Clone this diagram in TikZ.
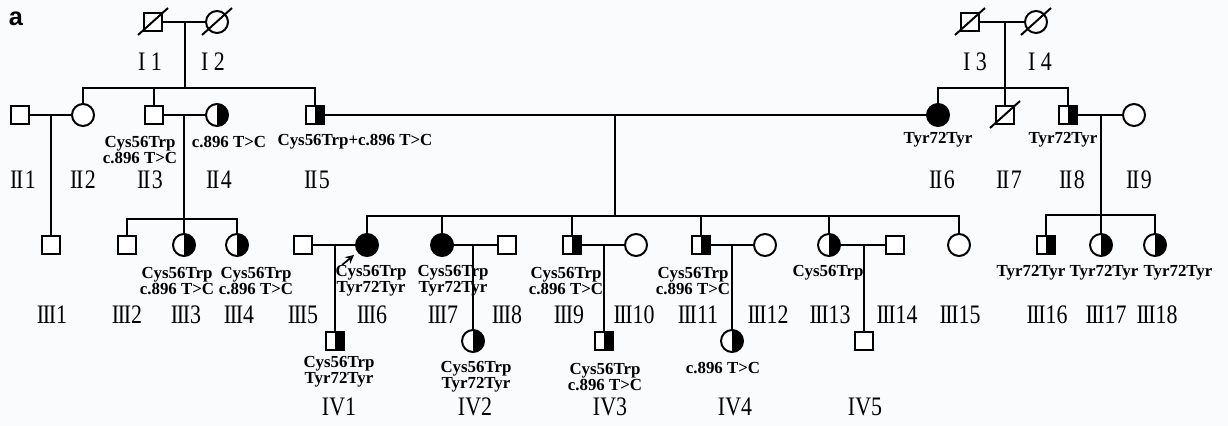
\documentclass[tikz,border=0pt]{standalone}
\usepackage{fontspec}
\setmainfont{Liberation Serif}
\setsansfont{Liberation Sans}
\newfontfamily\numfont[FakeStretch=0.82]{Liberation Serif}
\usetikzlibrary{arrows.meta}

\definecolor{paper}{RGB}{250,251,253}

\begin{document}
\begin{tikzpicture}[
    x=0.025cm, y=-0.025cm,
    line width=1.4pt,
    male/.style={rectangle, draw=black, minimum size=0.46cm, inner sep=0pt, fill=white},
    female/.style={circle, draw=black, minimum size=0.55cm, inner sep=0pt, fill=white},
    half/.style={path picture={\fill[black] (path picture bounding box.north)
                 rectangle (path picture bounding box.south east);}},
    full/.style={fill=black},
    geno/.style={font=\fontsize{12}{11.5}\selectfont\bfseries, align=center, inner sep=0pt},
    num/.style={font=\numfont\fontsize{19}{20}\selectfont, inner sep=0pt},
    proband/.style={-{Stealth[length=6pt,width=6pt]}, line width=1.2pt}
]
\fill[paper] (0,0) rectangle (1228,426);
\useasboundingbox (0,0) rectangle (1228,426);

\node[font=\fontsize{18}{18}\selectfont\sffamily\bfseries, inner sep=0pt] (panel) at (16,19) {a};

% generation I
\node[male]   (i1) at (153,22) {};
\node[female] (i2) at (217,22) {};
\node[male]   (i3) at (970,22) {};
\node[female] (i4) at (1036,22) {};

% generation II
\node[male]         (ii1) at (20,115) {};
\node[female]       (ii2) at (83,115) {};
\node[male]         (ii3) at (154,115) {};
\node[female, half] (ii4) at (217,115) {};
\node[male, half]   (ii5) at (315,115) {};
\node[female, full] (ii6) at (938,115) {};
\node[male]         (ii7) at (1005,115) {};
\node[male, half]   (ii8) at (1068,115) {};
\node[female]       (ii9) at (1134,115) {};

% generation III
\node[male]         (iii1)  at (51,245) {};
\node[male]         (iii2)  at (127,245) {};
\node[female, half] (iii3)  at (184,245) {};
\node[female, half] (iii4)  at (237,245) {};
\node[male]         (iii5)  at (303,245) {};
\node[female, full] (iii6)  at (367,245) {};
\node[female, full] (iii7)  at (442,245) {};
\node[male]         (iii8)  at (507,245) {};
\node[male, half]   (iii9)  at (572,245) {};
\node[female]       (iii10) at (636,245) {};
\node[male, half]   (iii11) at (701,245) {};
\node[female]       (iii12) at (765,245) {};
\node[female, half] (iii13) at (829,245) {};
\node[male]         (iii14) at (895,245) {};
\node[female]       (iii15) at (959,245) {};
\node[male, half]   (iii16) at (1046,245) {};
\node[female, half] (iii17) at (1101,245) {};
\node[female, half] (iii18) at (1155,245) {};

% generation IV
\node[male, half]   (iv1) at (335,341) {};
\node[female, half] (iv2) at (473,341) {};
\node[male, half]   (iv3) at (604,341) {};
\node[female, half] (iv4) at (732,341) {};
\node[male]         (iv5) at (864,341) {};

% deceased
\foreach \p in {i1,i2,i3,i4,ii7}
    \draw ([shift={(-15,13)}]\p.center) -- ([shift={(15,-14)}]\p.center);

% couples and sibships
\coordinate (m12) at (185,22);   \coordinate (s12) at (185,88);
\coordinate (m34) at (1005,22);  \coordinate (s34) at (1005,88);
\draw (i1) -- (i2);
\draw (i3) -- (i4);
\draw (m12) -- (s12);
\draw (m34) -- (s34);
\draw (ii2.north) |- (s12) -| (ii5.north);
\draw (ii3.north) |- (s12);
\draw (ii6.north) |- (s34) -| (ii8.north);
\draw (s34) -- (ii7.north);

\coordinate (m2a) at (51,115);
\coordinate (m2b) at (184,115);   \coordinate (s2b) at (184,219);
\coordinate (m2c) at (615,115);   \coordinate (s2c) at (615,216);
\coordinate (m2d) at (1101,115);  \coordinate (s2d) at (1101,215);
\draw (ii1) -- (ii2);
\draw (ii3) -- (ii4);
\draw (ii5) -- (ii6);
\draw (ii8) -- (ii9);
\draw (m2a) -- (iii1.north);
\draw (m2b) -- (s2b);
\draw (m2c) -- (s2c);
\draw (m2d) -- (s2d);
\draw (iii2.north) |- (s2b) -| (iii4.north);
\draw (s2b) -- (iii3.north);
\draw (iii6.north) |- (s2c) -| (iii15.north);
\foreach \c in {iii7,iii9,iii11,iii13}
    \draw (\c.north) |- (s2c);
\draw (iii16.north) |- (s2d) -| (iii18.north);
\draw (s2d) -- (iii17.north);

\coordinate (m3a) at (335,245);
\coordinate (m3b) at (473,245);
\coordinate (m3c) at (604,245);
\coordinate (m3d) at (732,245);
\coordinate (m3e) at (864,245);
\draw (iii5) -- (iii6);
\draw (iii7) -- (iii8);
\draw (iii9) -- (iii10);
\draw (iii11) -- (iii12);
\draw (iii13) -- (iii14);
\draw (m3a) -- (iv1.north);
\draw (m3b) -- (iv2.north);
\draw (m3c) -- (iv3.north);
\draw (m3d) -- (iv4.north);
\draw (m3e) -- (iv5.north);

% proband
\coordinate (pb0) at (342,265);
\coordinate (pb1) at (354,255);
\draw[proband] (pb0) -- (pb1);

% genotypes
\node[geno] (g-ii3)   at (140,150) {Cys56Trp\\c.896 T>C};
\node[geno] (g-ii4)   at (229,142) {c.896 T>C};
\node[geno] (g-ii5)   at (355,142) {Cys56Trp+c.896 T>C};
\node[geno] (g-ii6)   at (938,140) {Tyr72Tyr};
\node[geno] (g-ii8)   at (1063,140) {Tyr72Tyr};
\node[geno] (g-iii3)  at (177,281) {Cys56Trp\\c.896 T>C};
\node[geno] (g-iii4)  at (256,281) {Cys56Trp\\c.896 T>C};
\node[geno] (g-iii6)  at (371,281) {Cys56Trp\\Tyr72Tyr};
\node[geno] (g-iii7)  at (453,281) {Cys56Trp\\Tyr72Tyr};
\node[geno] (g-iii9)  at (566,281) {Cys56Trp\\c.896 T>C};
\node[geno] (g-iii11) at (693,281) {Cys56Trp\\c.896 T>C};
\node[geno] (g-iii13) at (828,273) {Cys56Trp};
\node[geno] (g-iii16) at (1031,273) {Tyr72Tyr};
\node[geno] (g-iii17) at (1104,273) {Tyr72Tyr};
\node[geno] (g-iii18) at (1178,273) {Tyr72Tyr};
\node[geno] (g-iv1)   at (339,372) {Cys56Trp\\Tyr72Tyr};
\node[geno] (g-iv2)   at (476,377) {Cys56Trp\\Tyr72Tyr};
\node[geno] (g-iv3)   at (605,377) {Cys56Trp\\c.896 T>C};
\node[geno] (g-iv4)   at (723,368) {c.896 T>C};

% numbering
\node[num] (n-i1) at (150,62) {I 1};
\node[num] (n-i2) at (213,62) {I 2};
\node[num] (n-i3) at (975,62) {I 3};
\node[num] (n-i4) at (1040,62) {I 4};
\foreach \x/\t in {23/1, 83/2, 150/3, 219/4, 317/5, 942/6, 1009/7, 1072/8, 1139/9}
    \node[num] (n-ii\t) at (\x,180) {I\kern-1pt I\kern1pt\t};
\foreach \x/\t in {52/1, 127/2, 186/3, 239/4, 303/5, 372/6, 443/7, 507/8, 569/9, 634/10,
                   698/11, 768/12, 830/13, 897/14, 960/15, 1047/16, 1106/17, 1157/18}
    \node[num] (n-iii\t) at (\x,315) {I\kern-1pt I\kern-1pt I\t};
\foreach \x/\t in {339/1, 475/2, 610/3, 735/4, 865/5}
    \node[num] (n-iv\t) at (\x,407) {IV\t};
\end{tikzpicture}
\end{document}
